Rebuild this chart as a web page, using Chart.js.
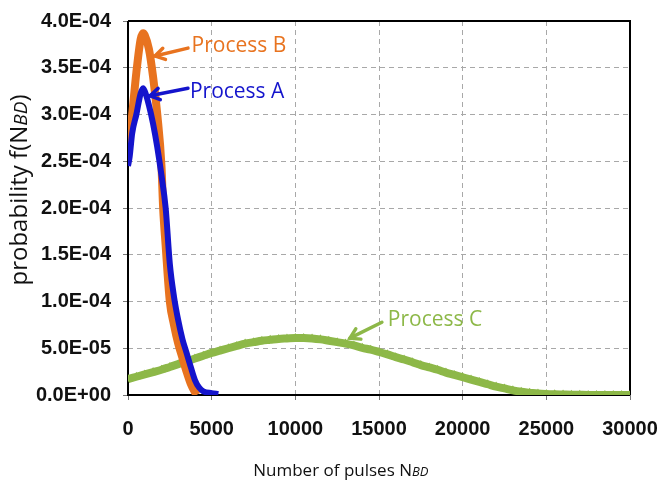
<!DOCTYPE html>
<html>
<head>
<meta charset="utf-8">
<script src="https://cdn.jsdelivr.net/npm/chart.js@4"></script>
<style>
  html, body { margin: 0; padding: 0; background: #fff; }
  #wrap { width: 670px; height: 483px; }
</style>
</head>
<body>
<div id="wrap"><canvas id="c" width="670" height="483"></canvas></div>
<script>
// ---- data ----
const xA = [0, 100, 250, 500, 750, 900, 1000, 1250, 1500, 1750, 2000, 2250, 2500, 2750, 3000, 3250, 3500, 3750, 4000, 4250, 4500, 5000, 5400];
const yA = [2.45e-4, 2.55e-4, 2.8e-4, 3.0e-4, 3.22e-4, 3.28e-4, 3.25e-4, 3.1e-4, 2.9e-4, 2.65e-4, 2.35e-4, 2.0e-4, 1.4e-4, 1.05e-4, 8.0e-5, 6.0e-5, 4.5e-5, 3.0e-5, 1.6e-5, 8e-6, 4e-6, 2e-6, 1e-6];

const xB = [0, 250, 500, 750, 900, 1000, 1250, 1500, 1750, 2000, 2100, 2250, 2500, 2750, 3000, 3250, 3500, 3750, 4000, 4100];
const yB = [2.6e-4, 3.0e-4, 3.45e-4, 3.8e-4, 3.87e-4, 3.85e-4, 3.7e-4, 3.4e-4, 3.0e-4, 2.45e-4, 2.0e-4, 1.6e-4, 1.0e-4, 7.5e-5, 5.5e-5, 4.0e-5, 2.5e-5, 1.2e-5, 3e-6, 0];

const xC = [0, 500, 1000, 1500, 2000, 2500, 3000, 3500, 4000, 4500, 5000, 5500, 6000, 6500, 7000, 7500, 8000, 8500, 9000, 9500, 10000, 10500, 11000, 11500, 12000, 12500, 13000, 13500, 14000, 14500, 15000, 15500, 16000, 16500, 17000, 17500, 18000, 18500, 19000, 19500, 20000, 20500, 21000, 21500, 22000, 22500, 23000, 23500, 24000, 24500, 25000, 25500, 26000, 26500, 27000, 27500, 28000, 28500, 29000, 29500, 30000];
const yC = [1.7e-5, 1.95e-5, 2.2e-5, 2.45e-5, 2.7e-5, 3.0e-5, 3.3e-5, 3.6e-5, 3.9e-5, 4.2e-5, 4.5e-5, 4.75e-5, 5.0e-5, 5.25e-5, 5.5e-5, 5.65e-5, 5.8e-5, 5.9e-5, 6.0e-5, 6.05e-5, 6.1e-5, 6.1e-5, 6.05e-5, 5.95e-5, 5.8e-5, 5.65e-5, 5.5e-5, 5.3e-5, 5.05e-5, 4.85e-5, 4.6e-5, 4.35e-5, 4.05e-5, 3.8e-5, 3.5e-5, 3.2e-5, 2.95e-5, 2.7e-5, 2.4e-5, 2.15e-5, 1.9e-5, 1.65e-5, 1.4e-5, 1.15e-5, 9e-6, 7e-6, 5e-6, 3.5e-6, 2.5e-6, 1.5e-6, 1e-6, 7e-7, 5e-7, 3e-7, 2e-7, 1e-7, 1e-7, 0, 0, 0, 0];

const seriesNames = ["Process A", "Process B", "Process C"];
const xTicksRange = { min: 0, max: 30000, step: 5000 };
const yTicksRange = { min: 0, max: 4e-4, step: 5e-5 };
const xTitle = ["Number of pulses N", "BD"];
const yTitle = ["probability f(N", "BD", ")"];

// ---- helpers ----
const pts = (xs, ys) => xs.map((x, i) => ({ x: x, y: ys[i] }));
function sci(v) {
  const s = Number(v).toExponential(1);
  const [m, e] = s.split('e');
  const sign = e[0] === '-' ? '-' : '+';
  const d = e.replace(/^[+-]/, '').padStart(2, '0');
  return m + 'E' + sign + d;
}

const COL_A = '#1414CC';
const COL_B = '#E8731F';
const COL_C = '#8DB848';

// annotation anchors in data coordinates
const notes = [
  { text: seriesNames[1], color: COL_B, tip: [1613, 3.625e-4], tail: [3584, 3.71e-4], at: [3800, 3.73e-4] },
  { text: seriesNames[0], color: COL_A, tip: [1314, 3.2e-4], tail: [3584, 3.28e-4], at: [3700, 3.24e-4] },
  { text: seriesNames[2], color: COL_C, tip: [13262, 6.08e-5], tail: [15173, 7.78e-5], at: [15530, 8.0e-5] }
];

const framePlugin = {
  id: 'frame',
  beforeDatasetsDraw(chart) {
    const { ctx, chartArea: a } = chart;
    ctx.save();
    ctx.setLineDash([]);
    ctx.strokeStyle = '#000';
    ctx.lineWidth = 2;
    ctx.beginPath();
    ctx.moveTo(a.left, a.top);
    ctx.lineTo(a.right, a.top);
    ctx.lineTo(a.right, a.bottom);
    ctx.moveTo(a.left, a.top);
    ctx.lineTo(a.left, a.bottom);
    ctx.lineTo(a.right, a.bottom);
    ctx.stroke();
    ctx.restore();
  },
  afterDraw(chart) {
    const { ctx, chartArea: a } = chart;
    ctx.save();
    ctx.fillStyle = '#111';
    ctx.textBaseline = 'alphabetic';
    // x title
    let f1 = '17px "Open Sans"';
    let f2 = 'italic 13px "Open Sans"';
    ctx.font = f1;
    const w1 = ctx.measureText(xTitle[0]).width;
    ctx.font = f2;
    const w2 = ctx.measureText(xTitle[1]).width;
    const cx = a.left + (a.right - a.left) * 0.424;
    let x0 = cx - (w1 + w2) / 2;
    const yb = 476;
    ctx.font = f1; ctx.textAlign = 'left';
    ctx.fillText(xTitle[0], x0, yb);
    ctx.font = f2;
    ctx.fillText(xTitle[1], x0 + w1, yb);
    // y title
    f1 = '24px "Open Sans"';
    f2 = 'italic 19px "Open Sans"';
    ctx.translate(27, 190);
    ctx.rotate(-Math.PI / 2);
    ctx.font = f1;
    const u1 = ctx.measureText(yTitle[0]).width;
    ctx.font = f2;
    const u2 = ctx.measureText(yTitle[1]).width;
    ctx.font = f1;
    const u3 = ctx.measureText(yTitle[2]).width;
    let s = -(u1 + u2 + u3) / 2;
    ctx.font = f1; ctx.fillText(yTitle[0], s, 0);
    ctx.font = f2; ctx.fillText(yTitle[1], s + u1, 0);
    ctx.font = f1; ctx.fillText(yTitle[2], s + u1 + u2, 0);
    ctx.restore();
  },
  afterDatasetsDraw(chart) {
    const { ctx } = chart;
    const sx = chart.scales.x, sy = chart.scales.y;
    ctx.save();
    ctx.setLineDash([]);
    notes.forEach(n => {
      const tx = sx.getPixelForValue(n.tip[0]), ty = sy.getPixelForValue(n.tip[1]);
      const lx = sx.getPixelForValue(n.tail[0]), ly = sy.getPixelForValue(n.tail[1]);
      ctx.strokeStyle = n.color;
      ctx.lineWidth = 3.5;
      ctx.lineCap = 'round';
      ctx.beginPath();
      ctx.moveTo(lx, ly); ctx.lineTo(tx, ty);
      ctx.stroke();
      const ang = Math.atan2(ly - ty, lx - tx);
      const L = 11, spread = 0.55;
      ctx.beginPath();
      ctx.moveTo(tx + L * Math.cos(ang + spread), ty + L * Math.sin(ang + spread));
      ctx.lineTo(tx, ty);
      ctx.lineTo(tx + L * Math.cos(ang - spread), ty + L * Math.sin(ang - spread));
      ctx.stroke();
      ctx.fillStyle = n.color;
      ctx.font = '21px "Open Sans"';
      ctx.textAlign = 'left';
      ctx.textBaseline = 'middle';
      ctx.fillText(n.text, sx.getPixelForValue(n.at[0]), sy.getPixelForValue(n.at[1]));
    });
    ctx.restore();
  }
};

const gridStyle = {
  color: '#a8a8a8',
  lineWidth: 1,
  drawTicks: true,
  tickLength: 5,
  tickColor: '#777'
};

new Chart(document.getElementById('c'), {
  type: 'line',
  data: {
    datasets: [
      {
        label: seriesNames[0], data: pts(xA, yA),
        borderColor: COL_A, backgroundColor: COL_A, borderWidth: 6,
        pointRadius: 0, cubicInterpolationMode: 'monotone'
      },
      {
        label: seriesNames[1], data: pts(xB, yB),
        borderColor: COL_B, backgroundColor: COL_B, borderWidth: 8,
        pointRadius: 0, cubicInterpolationMode: 'monotone'
      },
      {
        label: seriesNames[2], data: pts(xC, yC),
        borderColor: COL_C, backgroundColor: COL_C, borderWidth: 8,
        pointStyle: 'triangle', pointRadius: 5, pointBorderWidth: 0,
        cubicInterpolationMode: 'monotone'
      }
    ]
  },
  options: {
    responsive: false,
    animation: false,
    devicePixelRatio: 1,
    layout: { autoPadding: false, padding: { left: 0, right: 40, top: 21, bottom: 0 } },
    plugins: { legend: { display: false }, tooltip: { enabled: false } },
    scales: {
      x: {
        type: 'linear',
        min: xTicksRange.min, max: xTicksRange.max,
        afterFit(scale) { scale.height = 88; scale.paddingRight = 0; scale.paddingLeft = 0; },
        ticks: {
          stepSize: xTicksRange.step,
          padding: 17,
          color: '#111',
          font: { family: '"Liberation Sans", Arial, sans-serif', size: 20, weight: 'bold' },
          callback: v => String(v),
          maxRotation: 0
        },
        grid: Object.assign({}, gridStyle),
        border: { display: false, dash: [5, 4] }
      },
      y: {
        type: 'linear',
        min: yTicksRange.min, max: yTicksRange.max,
        afterFit(scale) { scale.width = 128; scale.paddingTop = 0; scale.paddingBottom = 0; },
        ticks: {
          stepSize: yTicksRange.step,
          padding: 12,
          color: '#111',
          font: { family: '"Liberation Sans", Arial, sans-serif', size: 20, weight: 'bold' },
          callback: v => sci(v)
        },
        grid: Object.assign({}, gridStyle),
        border: { display: false, dash: [5, 4] }
      }
    }
  },
  plugins: [framePlugin]
});
</script>
</body>
</html>
